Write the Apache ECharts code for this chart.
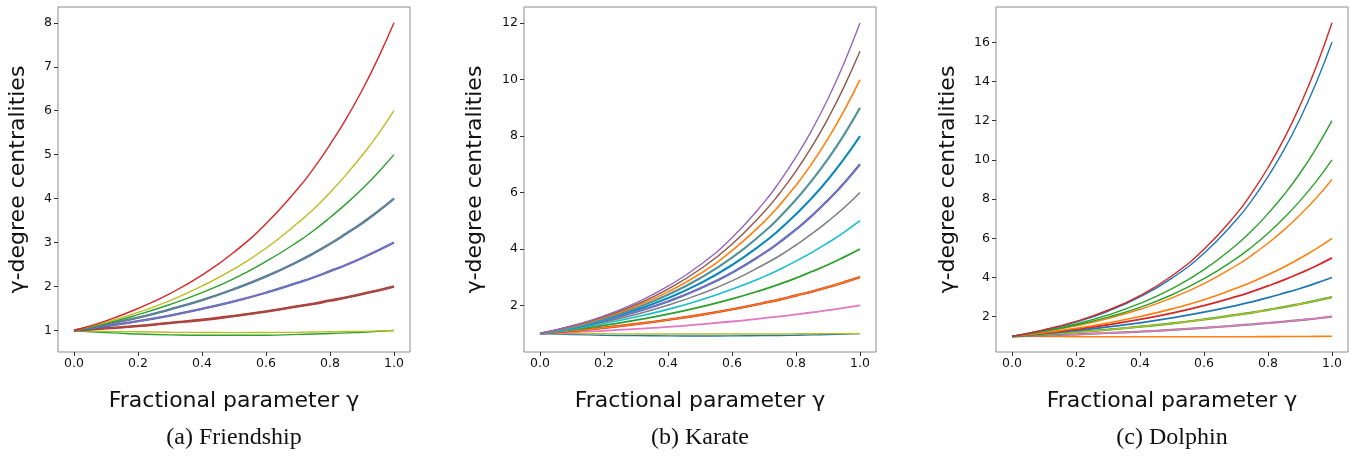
<!DOCTYPE html>
<html>
<head>
<meta charset="utf-8">
<script src="https://cdn.jsdelivr.net/npm/echarts@6/dist/echarts.min.js"></script>
<style>
  html, body { margin: 0; padding: 0; background: #fff; }
  #chart { width: 1353px; height: 457px; }
</style>
</head>
<body>
<div id="chart"></div>
<script>
  // fractional parameter γ sampled along the x axis (denser where curves get steep)
  const gamma = [0, 0.1, 0.2, 0.3, 0.4, 0.5, 0.6, 0.7, 0.75, 0.8, 0.85, 0.9, 0.95, 1.0]

  // (a) Friendship — one curve per visible end value
  const frDeg1a = [1, 0.98, 0.97, 0.96, 0.955, 0.95, 0.955, 0.96, 0.965, 0.97, 0.975, 0.98, 0.99, 1]
  const frDeg1b = [1, 0.95, 0.92, 0.90, 0.89, 0.89, 0.89, 0.91, 0.92, 0.93, 0.946, 0.96, 0.98, 1]
  const frDeg2 = [1, 1.05, 1.10, 1.17, 1.24, 1.33, 1.43, 1.55, 1.61, 1.68, 1.75, 1.83, 1.91, 2]
  const frDeg3 = [1, 1.10, 1.21, 1.34, 1.49, 1.66, 1.86, 2.09, 2.21, 2.35, 2.49, 2.65, 2.82, 3]
  const frDeg4 = [1, 1.14, 1.29, 1.48, 1.69, 1.94, 2.23, 2.57, 2.76, 2.97, 3.20, 3.44, 3.71, 4]
  const frDeg5 = [1, 1.16, 1.36, 1.59, 1.86, 2.18, 2.57, 3.02, 3.28, 3.57, 3.88, 4.22, 4.59, 5]
  const frDeg6 = [1, 1.19, 1.41, 1.68, 2.01, 2.40, 2.87, 3.45, 3.77, 4.14, 4.54, 4.98, 5.46, 6]
  const frDeg8 = [1, 1.22, 1.50, 1.84, 2.26, 2.78, 3.43, 4.23, 4.70, 5.23, 5.81, 6.46, 7.19, 8]

  // (b) Karate
  const krDeg1a = [1, 1, 0.995, 0.99, 0.99, 0.99, 0.99, 0.99, 0.99, 0.995, 0.997, 1, 1, 1]
  const krDeg1b = [1, 0.97, 0.945, 0.93, 0.92, 0.915, 0.92, 0.93, 0.937, 0.945, 0.957, 0.97, 0.985, 1]
  const krDeg2 = [1, 1.05, 1.10, 1.17, 1.24, 1.33, 1.43, 1.55, 1.61, 1.68, 1.75, 1.83, 1.91, 2]
  const krDeg3 = [1, 1.10, 1.21, 1.34, 1.49, 1.66, 1.86, 2.09, 2.21, 2.35, 2.49, 2.65, 2.82, 3]
  const krDeg4 = [1, 1.14, 1.29, 1.48, 1.69, 1.94, 2.23, 2.57, 2.76, 2.97, 3.20, 3.44, 3.71, 4]
  const krDeg5 = [1, 1.16, 1.36, 1.59, 1.86, 2.18, 2.57, 3.02, 3.28, 3.57, 3.88, 4.22, 4.59, 5]
  const krDeg6 = [1, 1.19, 1.41, 1.68, 2.01, 2.40, 2.87, 3.45, 3.77, 4.14, 4.54, 4.98, 5.46, 6]
  const krDeg7 = [1, 1.21, 1.46, 1.77, 2.14, 2.60, 3.16, 3.85, 4.25, 4.69, 5.18, 5.73, 6.33, 7]
  const krDeg8 = [1, 1.22, 1.50, 1.84, 2.26, 2.78, 3.43, 4.23, 4.70, 5.23, 5.81, 6.46, 7.19, 8]
  const krDeg9 = [1, 1.24, 1.54, 1.91, 2.38, 2.96, 3.69, 4.60, 5.14, 5.75, 6.43, 7.19, 8.04, 9]
  const krDeg10 = [1, 1.25, 1.57, 1.98, 2.48, 3.12, 3.94, 4.96, 5.57, 6.26, 7.03, 7.91, 8.89, 10]
  const krDeg11 = [1, 1.27, 1.60, 2.03, 2.58, 3.28, 4.17, 5.31, 5.99, 6.76, 7.63, 8.62, 9.74, 11]
  const krDeg12 = [1, 1.28, 1.63, 2.09, 2.68, 3.43, 4.40, 5.65, 6.40, 7.26, 8.22, 9.32, 10.58, 12]

  // (c) Dolphin
  const dpDeg1 = [1, 0.99, 0.985, 0.98, 0.98, 0.98, 0.98, 0.98, 0.98, 0.985, 0.987, 0.99, 0.995, 1]
  const dpDeg2 = [1, 1.05, 1.10, 1.17, 1.24, 1.33, 1.43, 1.55, 1.61, 1.68, 1.75, 1.83, 1.91, 2]
  const dpDeg3 = [1, 1.10, 1.21, 1.34, 1.49, 1.66, 1.86, 2.09, 2.21, 2.35, 2.49, 2.65, 2.82, 3]
  const dpDeg4 = [1, 1.14, 1.29, 1.48, 1.69, 1.94, 2.23, 2.57, 2.76, 2.97, 3.20, 3.44, 3.71, 4]
  const dpDeg5 = [1, 1.16, 1.36, 1.59, 1.86, 2.18, 2.57, 3.02, 3.28, 3.57, 3.88, 4.22, 4.59, 5]
  const dpDeg6 = [1, 1.19, 1.41, 1.68, 2.01, 2.40, 2.87, 3.45, 3.77, 4.14, 4.54, 4.98, 5.46, 6]
  const dpDeg9 = [1, 1.24, 1.54, 1.91, 2.38, 2.96, 3.69, 4.60, 5.14, 5.75, 6.43, 7.19, 8.04, 9]
  const dpDeg10 = [1, 1.25, 1.57, 1.98, 2.48, 3.12, 3.94, 4.96, 5.57, 6.26, 7.03, 7.91, 8.89, 10]
  const dpDeg12 = [1, 1.28, 1.63, 2.09, 2.68, 3.43, 4.40, 5.65, 6.40, 7.26, 8.22, 9.32, 10.58, 12]
  const dpDeg16 = [1, 1.32, 1.73, 2.28, 3.01, 3.97, 5.24, 6.92, 7.95, 9.15, 10.51, 12.09, 13.91, 16]
  const dpDeg17 = [1, 1.33, 1.76, 2.33, 3.08, 4.09, 5.44, 7.22, 8.33, 9.60, 11.07, 12.77, 14.73, 17]

  // tick labels
  const xTicks = [0, 0.2, 0.4, 0.6, 0.8, 1.0]
  const yTicksFriendship = [1, 2, 3, 4, 5, 6, 7, 8]
  const yTicksKarate = [2, 4, 6, 8, 10, 12]
  const yTicksDolphin = [2, 4, 6, 8, 10, 12, 14, 16]
  const captions = ['(a) Friendship', '(b) Karate', '(c) Dolphin']

  const C = {
    blue: '#1f77b4', orange: '#ff7f0e', green: '#2ca02c', red: '#d62728', purple: '#9467bd',
    brown: '#8c564b', pink: '#e377c2', gray: '#7f7f7f', olive: '#bcbd22', cyan: '#17becf'
  }

  function makeLine(idx, values, color, width) {
    return {
      type: 'line',
      xAxisIndex: idx,
      yAxisIndex: idx,
      data: gamma.map((g, i) => [g, values[i]]),
      smooth: 0.5,
      symbol: 'none',
      lineStyle: { color: color, width: width || 1.4 },
      emphasis: { disabled: true },
      silent: true
    }
  }

  // [values, color, width] — wider line drawn first where two colours overlap
  const panelA = [
    [frDeg1b, C.green], [frDeg1a, C.olive],
    [frDeg2, C.red, 2.6], [frDeg2, C.brown],
    [frDeg3, C.blue, 2.3], [frDeg3, C.purple],
    [frDeg4, C.blue, 2.3], [frDeg4, C.gray],
    [frDeg5, C.green], [frDeg6, C.olive], [frDeg8, C.red]
  ]
  const panelB = [
    [krDeg1b, C.blue], [krDeg1a, C.olive],
    [krDeg2, C.pink, 1.8],
    [krDeg3, C.red, 2.4], [krDeg3, C.orange],
    [krDeg4, C.green, 1.8], [krDeg5, C.cyan, 1.6], [krDeg6, C.gray, 1.6],
    [krDeg7, C.blue, 2.2], [krDeg7, C.purple],
    [krDeg8, C.cyan, 2.2], [krDeg8, C.blue],
    [krDeg9, C.cyan, 2.2], [krDeg9, C.gray],
    [krDeg10, C.orange, 1.6], [krDeg11, C.brown], [krDeg12, C.purple]
  ]
  const panelC = [
    [dpDeg1, C.orange, 1.6],
    [dpDeg2, C.gray, 2.2], [dpDeg2, C.pink],
    [dpDeg3, C.green, 2.2], [dpDeg3, C.olive],
    [dpDeg4, C.blue, 1.8], [dpDeg5, C.red, 1.8], [dpDeg6, C.orange, 1.6],
    [dpDeg9, C.orange], [dpDeg10, C.green], [dpDeg12, C.green],
    [dpDeg16, C.blue], [dpDeg17, C.red]
  ]

  const grids = [
    { left: 58, top: 7, width: 352, height: 345 },
    { left: 524, top: 7, width: 352, height: 345 },
    { left: 996, top: 7, width: 352, height: 345 }
  ].map(g => Object.assign(g, { show: true, borderColor: '#8c8c8c', borderWidth: 1 }))

  const font = 'DejaVu Sans'

  function xAxis(idx) {
    return {
      type: 'value',
      gridIndex: idx,
      min: -0.05,
      max: 1.05,
      axisLine: { show: false, onZero: false },
      axisTick: { show: true, length: 4, customValues: xTicks, lineStyle: { color: '#333' } },
      axisLabel: {
        customValues: xTicks, fontSize: 12.5, color: '#111', margin: 5, fontFamily: font,
        formatter: v => Number(v).toFixed(1)
      },
      splitLine: { show: false },
      name: 'Fractional parameter γ',
      nameLocation: 'middle',
      nameGap: 38,
      nameTextStyle: { fontSize: 22, color: '#111', fontFamily: font }
    }
  }

  function yAxis(idx, min, max, ticks, gap) {
    return {
      type: 'value',
      gridIndex: idx,
      min: min,
      max: max,
      axisLine: { show: false, onZero: false },
      axisTick: { show: true, length: 4, customValues: ticks, lineStyle: { color: '#333' } },
      axisLabel: {
        customValues: ticks, fontSize: 12.5, color: '#111', margin: 6, fontFamily: font,
        formatter: v => String(Math.round(v))
      },
      splitLine: { show: false },
      name: 'γ-degree centralities',
      nameLocation: 'middle',
      nameGap: gap,
      nameTextStyle: { fontSize: 22, color: '#111', fontFamily: font }
    }
  }

  const chart = echarts.init(document.getElementById('chart'))
  chart.setOption({
    animation: false,
    backgroundColor: '#fff',
    grid: grids,
    xAxis: [xAxis(0), xAxis(1), xAxis(2)],
    yAxis: [
      yAxis(0, 0.51, 8.36, yTicksFriendship, 29),
      yAxis(1, 0.35, 12.57, yTicksKarate, 38),
      yAxis(2, 0.2, 17.8, yTicksDolphin, 37)
    ],
    graphic: captions.map((t, i) => ({
      type: 'text',
      x: grids[i].left + grids[i].width / 2,
      y: 438,
      style: {
        text: t, fill: '#111', fontSize: 24, fontFamily: 'Liberation Serif',
        align: 'center', verticalAlign: 'middle'
      }
    })),
    series: [
      ...panelA.map(s => makeLine(0, s[0], s[1], s[2])),
      ...panelB.map(s => makeLine(1, s[0], s[1], s[2])),
      ...panelC.map(s => makeLine(2, s[0], s[1], s[2]))
    ]
  })
</script>
</body>
</html>
